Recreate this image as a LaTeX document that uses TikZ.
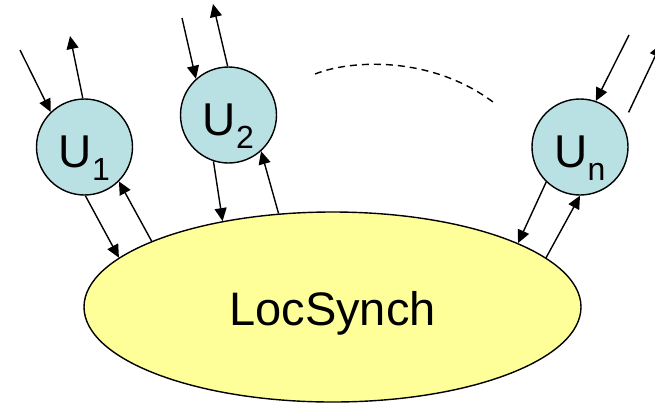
\documentclass[tikz,border=0pt]{standalone}
\usepackage{fontspec}
\setmainfont{Liberation Sans}
\usetikzlibrary{arrows.meta,shapes.geometric}
\definecolor{ucol}{RGB}{185,224,227}
\definecolor{lcol}{RGB}{255,255,153}
\newcommand{\subtxt}[1]{\raisebox{-13pt}{\fontsize{32}{32}\selectfont #1}}
\begin{document}
\begin{tikzpicture}[x=1pt,y=-1pt,
  unode/.style={circle,draw,line width=1.4pt,fill=ucol,minimum size=96pt,inner sep=0pt,
    text height=40pt,text depth=0pt,font=\fontsize{46}{46}\selectfont},
  lnode/.style={ellipse,draw,line width=1.4pt,fill=lcol,minimum width=497pt,minimum height=190pt,
    inner sep=0pt,text height=36pt,text depth=0pt,font=\fontsize{47}{47}\selectfont},
  arr/.style={line width=1.4pt,-{Triangle[length=13pt,width=12pt]}},
  dots/.style={line width=1.4pt,dash pattern=on 7pt off 5pt}]
\useasboundingbox (0,0) rectangle (655,405);
\node[lnode] (ls) at (332.5,307) {LocSynch};
\node[unode] (u1) at (84.5,147) {U\subtxt{1}};
\node[unode] (u2) at (228.5,115) {U\subtxt{2}};
\node[unode] (un) at (580,147) {U\subtxt{n}};
\coordinate (a1) at (20,50);
\coordinate (a2) at (70,36);
\coordinate (b1) at (182,18);
\coordinate (b2) at (213,4);
\coordinate (c1) at (629,35);
\coordinate (c2) at (661,44);
% U1
\draw[arr] (a1) -- (u1.134);
\draw[arr] (u1.92) -- (a2);
\draw[arr] (u1.-89) -- (ls.167.4);
\draw[arr] (ls.160.9) -- (u1.-45);
% U2
\draw[arr] (b1) -- (u2.132);
\draw[arr] (u2.91) -- (b2);
\draw[arr] (u2.-108) -- (ls.142);
\draw[arr] (ls.120) -- (u2.-48);
% Un
\draw[arr] (c1) -- (un.71);
\draw[arr,shorten <=13pt] (un.28) -- (c2);
\draw[arr] (un.-134) -- (ls.19);
\draw[arr] (ls.13) -- (un.-90);
% dots
\draw[dots] (315,74) .. controls (350,60) and (430,55) .. (493,102);
\end{tikzpicture}
\end{document}
